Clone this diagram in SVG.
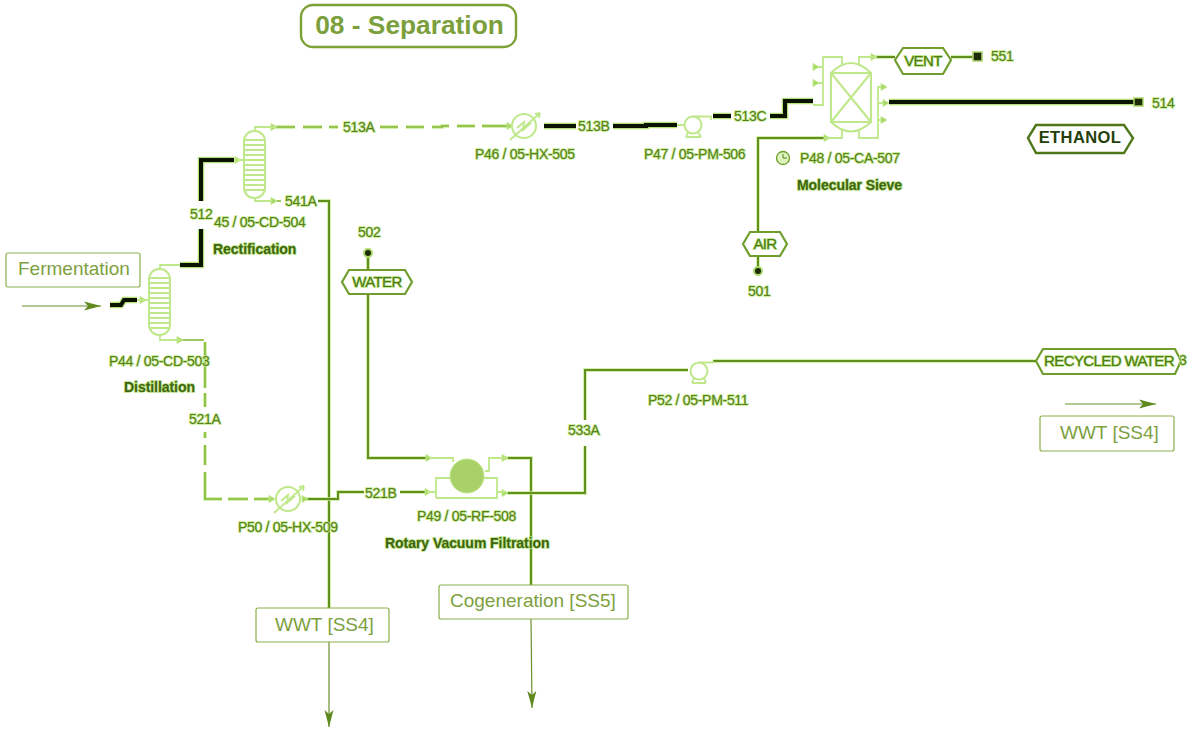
<svg xmlns="http://www.w3.org/2000/svg" width="1189" height="729" viewBox="0 0 1189 729">
<defs>
<marker id="arr" markerWidth="20" markerHeight="12" refX="17" refY="6" orient="auto" markerUnits="userSpaceOnUse"><path d="M0 1.5L17 6L0 10.5L4 6Z" fill="#5f8a1e"/></marker>
<g id="tick"><path d="M-3 -3.5L3 0L-3 3.5Z" fill="#a9d86a" stroke="#c4ea90" stroke-width="1"/></g>
</defs>
<style>
text{font-family:"Liberation Sans",Arial,sans-serif;fill:#5d8c1c}
.lb{font-size:14px;stroke:#c4ea90;stroke-width:1.6px;paint-order:stroke;letter-spacing:-.3px;fill:#587f1c}
.b{font-size:14px;font-weight:bold;fill:#3f6510;stroke:#b5e07a;stroke-width:1.6px;paint-order:stroke;letter-spacing:-.05px}
.tag{font-size:15px;stroke:#b5e07a;stroke-width:1.4px;paint-order:stroke;text-anchor:middle;fill:#4e7a14;letter-spacing:-.6px}
.box{fill:#fff;stroke:#8ab04a;stroke-width:1.2}
.bt{font-size:19px;fill:#7d9f3e}
.eq{fill:none;stroke:#bfe88a;stroke-width:2}
.thin{fill:none;stroke:#bfe88a;stroke-width:1.8}
.g{fill:none;stroke:#628f1e;stroke-width:2}
.gh{fill:none;stroke:#c4ea90;stroke-width:3.4}
.d{fill:none;stroke:#86b83a;stroke-width:1.6}
.k{fill:none;stroke:#0a1200;stroke-width:4}
.kh{fill:none;stroke:#b5e07a;stroke-width:6.5}
.hex{fill:#fff;stroke:#6f9e2c;stroke-width:2.2}
.ext{fill:none;stroke:#6a8f30;stroke-width:1.2}
</style>

<g id="connectors">
<path class="ext" d="M22 306H101" marker-end="url(#arr)"/>
<path class="ext" d="M1065 404H1156" marker-end="url(#arr)"/>
<path class="ext" d="M329 640V727" marker-end="url(#arr)"/>
<path class="ext" d="M531 618L532 708" marker-end="url(#arr)"/>

<path class="kh" d="M110 305H121L124 300H137"/><path class="k" d="M110 305H121L124 300H137"/>
<path class="kh" d="M180 265H201V229M201 201V160H234"/><path class="k" d="M180 265H201V229M201 201V160H234"/>
<path class="kh" d="M544 126H576M613 126H646V125H677"/><path class="k" d="M544 126H576M613 126H646V125H677"/>
<path class="kh" d="M713 116H731M770 116H785V101H813"/><path class="k" d="M713 116H731M770 116H785V101H813"/>
<path class="kh" d="M889 102H1134"/><path class="k" d="M889 102H1134"/>

<path class="d" d="M178 340H204"/>
<path class="gh" d="M205 342V388M205 393V407M205 432V438M205 445V465M205 472V499H222M228 499H248M254 499H270"/>
<path class="d" d="M205 342V388M205 393V407M205 432V438M205 445V465M205 472V499H222M228 499H248M254 499H270"/>
<path class="gh" d="M275 127H295M303 127H322M329 127H338M380 127H398M406 127H424M432 127H442V126H449M457 126H475M482 126H508"/>
<path class="d" d="M275 127H295M303 127H322M329 127H338M380 127H398M406 127H424M432 127H442V126H449M457 126H475M482 126H508"/>
<path class="thin" d="M255 127H275"/>
<path class="gh" d="M318 201H329V640"/><path class="g" d="M318 201H329V640"/>
<path class="gh" d="M368 256V458H428"/><path class="g" d="M368 256V458H428" stroke-width="2.6"/>
<path class="gh" d="M305 499H338V492H364M400 492H427"/><path class="g" d="M305 499H338V492H364M400 492H427"/>
<path class="gh" d="M507 458H531V588"/><path class="g" d="M507 458H531V588"/>
<path class="gh" d="M507 493H585V446M585 420V370H688"/><path class="g" d="M507 493H585V446M585 420V370H688"/>
<path class="gh" d="M713 361H1036"/><path class="g" d="M713 361H1036" stroke-width="2.6"/>
<path class="gh" d="M758 232V138H827"/><path class="g" d="M758 232V138H827"/>
<path class="gh" d="M758 256V270"/><path class="g" d="M758 256V270"/>
<path class="gh" d="M368 252V270"/><path class="g" d="M368 252V270"/>
<path class="gh" d="M875 57H895M951 57H975"/><path class="g" d="M875 57H895M951 57H975"/>

<use href="#tick" x="143" y="300"/><use href="#tick" x="238" y="160"/><use href="#tick" x="274" y="127"/><use href="#tick" x="274" y="201"/>
<use href="#tick" x="180" y="340"/><use href="#tick" x="272" y="499"/><use href="#tick" x="510" y="126"/><use href="#tick" x="305" y="499"/>
<use href="#tick" x="429" y="458"/><use href="#tick" x="428" y="492"/><use href="#tick" x="505" y="458"/><use href="#tick" x="505" y="493"/>
<use href="#tick" x="827" y="138"/><use href="#tick" x="874" y="57"/>
</g>

<g id="title"><rect x="301" y="5" width="215" height="42" rx="12" fill="#fff" stroke="#7da135" stroke-width="2.4"/><text x="409.500" y="34" text-anchor="middle" font-size="26.300" font-weight="bold" style="fill:#7b9f3c">08 - Separation</text></g>

<g id="n-fermentation"><rect class="box" x="6" y="253" width="134" height="34" rx="2"/><text class="bt" x="18" y="275">Fermentation</text></g>

<g id="n-p44"><rect class="eq" x="149" y="269" width="21" height="66" rx="10"/>
<path class="thin" d="M150 278H169M150 283H169M150 288H169M150 293H169M150 298H169M150 303H169M150 308H169M150 313H169M150 318H169M150 323H169M150 328H169" stroke-width="1.2"/>
<path class="thin" d="M160 269V265H180M149 300H137M160 335V340H180"/>
<text class="lb" x="109" y="366">P44 / 05-CD-503</text><text class="b" x="124" y="392">Distillation</text></g>

<g id="n-p45"><rect class="eq" x="244" y="131" width="21" height="67" rx="10"/>
<path class="thin" d="M245 140H264M245 145H264M245 150H264M245 155H264M245 160H264M245 165H264M245 170H264M245 175H264M245 180H264M245 185H264M245 190H264" stroke-width="1.2"/>
<path class="thin" d="M234 160H244M255 131V127H275M255 198V201H272"/><path class="d" d="M277 201H281"/>
<text class="lb" x="214" y="227">45 / 05-CD-504</text><text class="b" x="213" y="254">Rectification</text></g>

<g id="n-p46"><circle class="eq" cx="524" cy="126" r="12"/><path class="thin" d="M510 140L540 113M540 113L535 114M540 113L539 118M517 128L524 122L523 130L531 123"/>
<text class="lb" x="475" y="159">P46 / 05-HX-505</text></g>

<g id="n-p47"><circle class="eq" cx="693" cy="125" r="8.500"/><path class="thin" d="M693 116.500H711V120M686 137H701M688 132L686 137M698 132L701 137M677 125H684"/>
<text class="lb" x="644" y="159">P47 / 05-PM-506</text></g>

<g id="n-p48"><rect class="eq" x="831" y="73" width="40" height="49"/><path class="eq" d="M831 73Q851 53 871 73M831 122Q851 141 871 122M831 73L871 122M871 73L831 122"/>
<path class="thin" d="M842 64V57H823V105H813M823 67H816M823 83H816M859 64V57H875M859 130V138H878V87H884M878 103H887M878 120H884M842 130V138H825"/>
<use href="#tick" x="816" y="67"/><use href="#tick" x="816" y="83"/><use href="#tick" x="884" y="87"/><use href="#tick" x="884" y="120"/><use href="#tick" x="886" y="103"/>
<circle cx="783" cy="158" r="6.500" fill="#dff3bf" stroke="#6f9e2c" stroke-width="1.300"/><path d="M783 154V158H787" fill="none" stroke="#55801a" stroke-width="1"/>
<text class="lb" x="800" y="163">P48 / 05-CA-507</text><text class="b" x="797" y="190">Molecular Sieve</text></g>

<g id="n-p49"><path class="thin" d="M436 498V478H451M482 478H497V498H436M429 458H453V462M485 471H489V458H505M427 492H436M497 492H505"/>
<circle cx="467" cy="476" r="17" fill="#a9d16a" stroke="#bfe88a" stroke-width="1"/>
<text class="lb" x="417" y="521">P49 / 05-RF-508</text><text class="b" x="385" y="548">Rotary Vacuum Filtration</text></g>

<g id="n-p50"><circle class="eq" cx="288" cy="499" r="12"/><path class="thin" d="M274 513L304 486M304 486L299 487M304 486L303 491M281 501L288 495L287 503L295 496"/>
<text class="lb" x="238" y="532">P50 / 05-HX-509</text></g>

<g id="n-p52"><circle class="eq" cx="699" cy="371" r="8.500"/><path class="thin" d="M699 362.500H713V361M692 383H706M694 378L692 383M704 378L706 383"/>
<text class="lb" x="648" y="405">P52 / 05-PM-511</text></g>

<g id="n-vent"><path class="hex" d="M895 60L903 48H943L951 60L943 74H903Z"/><text class="tag" x="923" y="66">VENT</text></g>
<g id="n-551"><rect x="973" y="52" width="9" height="9" fill="#1c2a05" stroke="#a8d86a" stroke-width="1.500"/><text class="lb" x="991" y="61">551</text></g>
<g id="n-514"><rect x="1134" y="98" width="9" height="8" fill="#1c2a05" stroke="#a8d86a" stroke-width="1.500"/><text class="lb" x="1152" y="108">514</text></g>
<g id="n-ethanol"><path fill="#fff" stroke="#50761a" stroke-width="2.400" d="M1028 138L1036 125H1124L1133 138L1124 153H1036Z"/><text x="1080" y="143" text-anchor="middle" font-size="16.500" font-weight="bold" style="fill:#24400a;letter-spacing:.4px">ETHANOL</text></g>
<g id="n-air"><path class="hex" d="M743 244L750 232H780L787 244L780 256H750Z"/><text class="tag" x="765" y="249">AIR</text></g>
<g id="n-501"><circle cx="758" cy="271" r="4" fill="#1c2a05" stroke="#a8d86a" stroke-width="2"/><text class="lb" x="748" y="296">501</text></g>
<g id="n-502"><circle cx="368" cy="253" r="4" fill="#1c2a05" stroke="#a8d86a" stroke-width="2"/><text class="lb" x="358" y="237">502</text></g>
<g id="n-water"><path class="hex" d="M342 282L349 270H405L412 282L405 294H349Z"/><text class="tag" x="377" y="287">WATER</text></g>
<g id="n-recycled"><path class="hex" d="M1036 361L1043 349H1175L1181 361L1175 374H1043Z"/><text class="tag" x="1109" y="366">RECYCLED WATER</text><text class="lb" x="1179" y="365">3</text></g>
<g id="n-wwt2"><rect class="box" x="1040" y="416" width="134" height="35" rx="2"/><text class="bt" x="1060" y="439">WWT [SS4]</text></g>
<g id="n-wwt1"><rect class="box" x="256" y="608" width="133" height="34" rx="2"/><text class="bt" x="275" y="631">WWT [SS4]</text></g>
<g id="n-cogen"><rect class="box" x="439" y="585" width="189" height="34" rx="2"/><text class="bt" x="450" y="607">Cogeneration [SS5]</text></g>

<g id="stream-labels">
<text class="lb" x="190" y="219">512</text><text class="lb" x="285" y="206">541A</text><text class="lb" x="343" y="132">513A</text><text class="lb" x="578" y="131">513B</text><text class="lb" x="734" y="121">513C</text>
<text class="lb" x="189" y="424">521A</text><text class="lb" x="365" y="498">521B</text><text class="lb" x="568" y="435">533A</text>
</g>
</svg>
